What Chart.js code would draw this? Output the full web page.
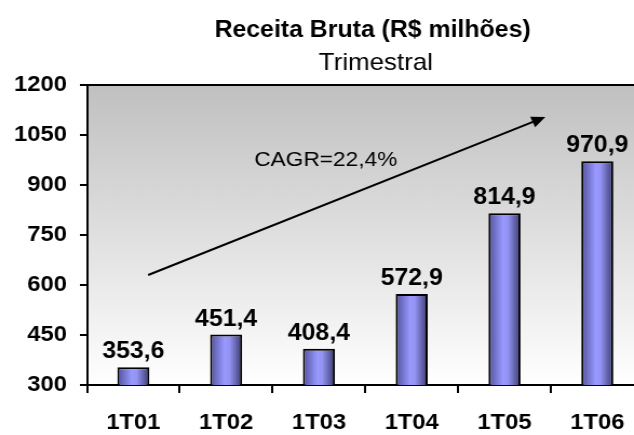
<!DOCTYPE html>
<html>
<head>
<meta charset="utf-8">
<script src="https://cdn.jsdelivr.net/npm/chart.js@4/dist/chart.umd.min.js"></script>
<style>
  html, body { margin: 0; padding: 0; background: #fff; overflow: hidden; }
  /* o original é levemente esticado na horizontal */
  #wrap { width: 598px; height: 435px; transform: scaleX(1.08); transform-origin: 0 0; }
</style>
</head>
<body>
<div id="wrap"><canvas id="receitaChart"></canvas></div>
<script>
// dados do gráfico
const trimestres = ['1T01', '1T02', '1T03', '1T04', '1T05', '1T06'];
const receita = [353.6, 451.4, 408.4, 572.9, 814.9, 970.9];
const yTicks = [300, 450, 600, 750, 900, 1050, 1200];

const titulo = 'Receita Bruta (R$ milhões)';
const subtitulo = 'Trimestral';
const cagrTexto = 'CAGR=22,4%';

// seta do CAGR em coordenadas do gráfico (índice da categoria, valor)
const setaInicio = { x: 0.16, y: 630 };
const setaFim = { x: 4.44, y: 1104 };
const cagrPos = { x: 2.845, y: 957 };

const FONTE = 'Arial, "Liberation Sans", sans-serif';

function fmt(v) {
    return v.toFixed(1).replace('.', ',');
}

// fundo cinza degradê da área do gráfico + títulos + seta + rótulos
const decoracao = {
    id: 'decoracao',
    beforeDraw(chart) {
        const { ctx, chartArea } = chart;
        const g = ctx.createLinearGradient(0, chartArea.top, 0, chartArea.bottom);
        g.addColorStop(0, '#c0c0c0');
        g.addColorStop(1, '#ffffff');
        ctx.save();
        ctx.fillStyle = g;
        ctx.fillRect(chartArea.left, chartArea.top, chartArea.right - chartArea.left, chartArea.bottom - chartArea.top);

        // títulos
        ctx.fillStyle = '#000';
        ctx.textAlign = 'center';
        ctx.textBaseline = 'alphabetic';
        ctx.font = 'bold 23px ' + FONTE;
        ctx.fillText(titulo, 345, 37);
        ctx.font = '24px ' + FONTE;
        ctx.fillText(subtitulo, 348, 70);
        ctx.restore();
    },
    afterDatasetsDraw(chart) {
        const { ctx, chartArea, scales } = chart;
        ctx.save();

        // linha superior
        ctx.strokeStyle = '#000';
        ctx.lineWidth = 2;
        ctx.beginPath();
        ctx.moveTo(chartArea.left, chartArea.top);
        ctx.lineTo(chartArea.right, chartArea.top);
        ctx.stroke();

        // seta
        const x0 = scales.x.getPixelForValue(setaInicio.x);
        const y0 = scales.y.getPixelForValue(setaInicio.y);
        const x1 = scales.x.getPixelForValue(setaFim.x);
        const y1 = scales.y.getPixelForValue(setaFim.y);
        const ang = Math.atan2(y1 - y0, x1 - x0);
        const head = 14;
        ctx.beginPath();
        ctx.moveTo(x0, y0);
        ctx.lineTo(x1 - Math.cos(ang) * head * 0.8, y1 - Math.sin(ang) * head * 0.8);
        ctx.stroke();
        ctx.fillStyle = '#000';
        ctx.beginPath();
        ctx.moveTo(x1, y1);
        ctx.lineTo(x1 - head * Math.cos(ang - 0.42), y1 - head * Math.sin(ang - 0.42));
        ctx.lineTo(x1 - head * Math.cos(ang + 0.42), y1 - head * Math.sin(ang + 0.42));
        ctx.closePath();
        ctx.fill();

        // texto CAGR
        ctx.font = '21px ' + FONTE;
        ctx.textAlign = 'right';
        ctx.textBaseline = 'alphabetic';
        ctx.fillText(cagrTexto, scales.x.getPixelForValue(cagrPos.x), scales.y.getPixelForValue(cagrPos.y));

        // rótulos das barras
        ctx.font = 'bold 23px ' + FONTE;
        ctx.textAlign = 'center';
        const meta = chart.getDatasetMeta(0);
        meta.data.forEach((bar, i) => {
            ctx.fillText(fmt(receita[i]), bar.x, bar.y - 9);
        });
        ctx.restore();
    }
};

// degradê horizontal de cada barra
function corBarra(context) {
    const chart = context.chart;
    const xs = chart.scales.x;
    if (!xs || !chart.chartArea) return '#9999ff';
    const cx = xs.getPixelForValue(context.dataIndex);
    const half = (xs.width / trimestres.length) * 0.345 / 2;
    const g = chart.ctx.createLinearGradient(cx - half, 0, cx + half, 0);
    g.addColorStop(0, '#50509a');
    g.addColorStop(0.45, '#9999ff');
    g.addColorStop(0.6, '#9494f5');
    g.addColorStop(1, '#3a3a6e');
    return g;
}

const ctx = document.getElementById('receitaChart').getContext('2d');
new Chart(ctx, {
    type: 'bar',
    data: {
        labels: trimestres,
        datasets: [{
            label: 'Receita Bruta',
            data: receita,
            backgroundColor: corBarra,
            borderColor: '#000',
            borderWidth: 2,
            borderSkipped: false,
            categoryPercentage: 1,
            barPercentage: 0.345
        }]
    },
    options: {
        responsive: true,
        maintainAspectRatio: false,
        animation: false,
        layout: { padding: { top: 85, right: 2, left: 0, bottom: 0 } },
        plugins: {
            legend: { display: false },
            title: { display: false },
            tooltip: { enabled: false }
        },
        scales: {
            x: {
                grid: { drawOnChartArea: false, drawTicks: true, tickLength: 8, color: '#000', lineWidth: 2, offset: true },
                border: { color: '#000', width: 2 },
                ticks: { color: '#000', font: { family: FONTE, size: 22, weight: 'bold' }, padding: 17 },
                afterFit(scale) { scale.height = 50; }
            },
            y: {
                min: 300,
                max: 1200,
                afterBuildTicks(scale) {
                    scale.ticks = yTicks.map(v => ({ value: v }));
                },
                grid: { drawOnChartArea: false, drawTicks: true, tickLength: 6.5, color: '#000', lineWidth: 2 },
                border: { color: '#000', width: 2 },
                ticks: {
                    color: '#000',
                    font: { family: FONTE, size: 22, weight: 'bold' },
                    padding: 12,
                    callback: v => String(v)
                },
                afterFit(scale) { scale.width = 80.5; }
            }
        }
    },
    plugins: [decoracao]
});
</script>
</body>
</html>
